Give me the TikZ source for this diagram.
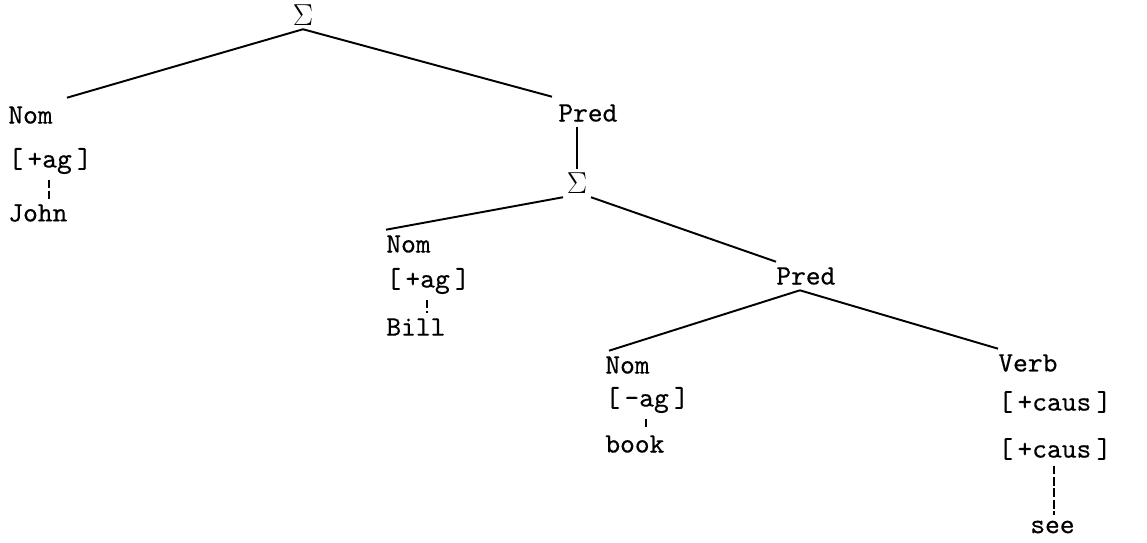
\documentclass[tikz,border=0pt]{standalone}
\usepackage{fontspec}
\newfontfamily\typer{lmmono10-regular.otf}[FakeBold=0.35]
\usetikzlibrary{calc}

% feature in brackets, typed with loose brackets
\newcommand{\feat}[1]{[\kern2.5pt#1\kern3pt]}

\begin{document}
\begin{tikzpicture}[
    x=0.02cm, y=-0.02cm,
    word/.style={font=\typer\fontsize{16}{18}\selectfont, inner xsep=0pt, inner ysep=3pt, anchor=west},
    sym/.style={font=\fontsize{16}{18}\selectfont, inner sep=2pt},
    branch/.style={line width=1.1pt},
    link/.style={line width=0.6pt, dash pattern=on 5pt off 1.5pt}
]
    \useasboundingbox (0,0) rectangle (1147,542);

    % Top sentence
    \node[sym] (sigA) at (303,15) {$\Sigma$};
    \node[word] (nomA) at (8,115) {Nom};
    \node[word] (agA) at (8,161) {\feat{+ag}};
    \node[word] (john) at (8,213) {John};
    \node[word] (predA) at (558,113) {Pred};

    % Embedded sentence
    \node[sym] (sigB) at (577,183) {$\Sigma$};
    \node[word] (nomB) at (386,244) {Nom};
    \node[word] (agB) at (386,281) {\feat{+ag}};
    \node[word] (bill) at (386,327) {Bill};
    \node[word] (predB) at (776,276) {Pred};

    % Lower predicate
    \node[word] (nomC) at (605,365) {Nom};
    \node[word] (agC) at (605,400) {\feat{-ag}};
    \node[word] (book) at (605,444) {book};
    \node[word] (verb) at (998,363) {Verb};
    \node[word] (causA) at (998,402) {\feat{+caus}};
    \node[word] (causB) at (998,449) {\feat{+caus}};
    \node[word] (see) at (1030,527) {see};

    % Branches
    \draw[branch] (sigA.south) -- ($(nomA.north east)+(14,-3)$);
    \draw[branch] (sigA.south) -- ($(predA.north west)+(-6,-2)$);
    \draw[branch] (predA.south -| sigB) -- (sigB.north);
    \draw[branch] (sigB.south west) -- (nomB.north west);
    \draw[branch] (sigB.south east) -- (predB.north west);
    \draw[branch] ($(predB.south)+(-6,0)$) -- ($(nomC.north west)+(4,0)$);
    \draw[branch] ($(predB.south)+(-6,0)$) -- (verb.north west);

    % Feature links
    \coordinate (lA) at ($(agA.south west)+(41,0)$);
    \coordinate (lB) at ($(agB.south west)+(41,0)$);
    \coordinate (lC) at ($(agC.south west)+(41,0)$);
    \coordinate (lD) at ($(causB.south west)+(56,0)$);
    \draw[link] (lA) -- (lA |- john.north);
    \draw[link] (lB) -- (lB |- bill.north);
    \draw[link] (lC) -- (lC |- book.north);
    \draw[link] (lD) -- (lD |- see.north);
\end{tikzpicture}
\end{document}
